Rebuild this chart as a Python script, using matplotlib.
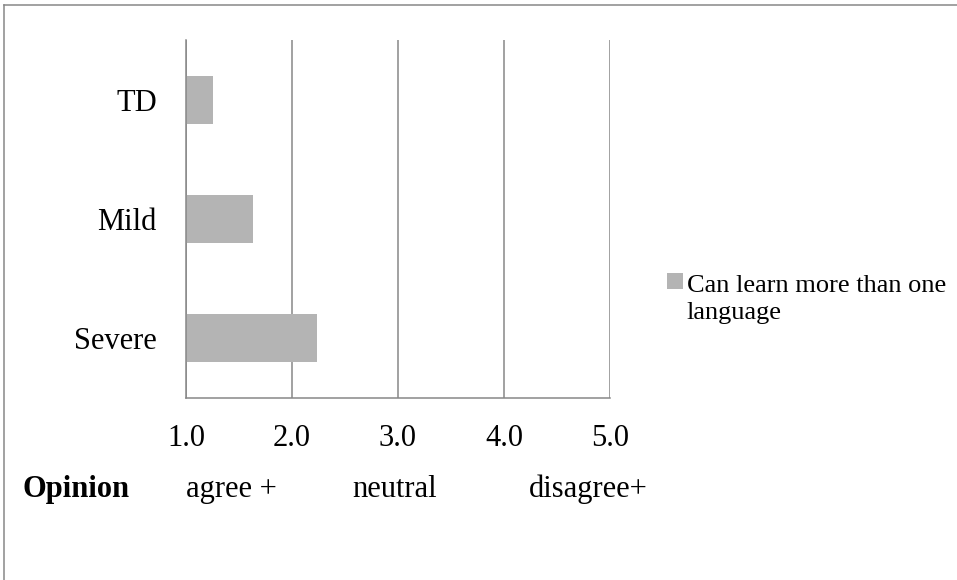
import matplotlib
matplotlib.use('Agg')
import matplotlib.pyplot as plt
from matplotlib.lines import Line2D
from matplotlib.patches import Rectangle
from matplotlib.container import BarContainer
from matplotlib.legend_handler import HandlerPatch

plt.rcParams['font.family'] = ['Liberation Serif', 'DejaVu Serif']

groups = ['Severe', 'Mild', 'TD']
scores = [2.24, 1.63, 1.25]
series_name = 'Can learn more than one\nlanguage'
xticks = [1.0, 2.0, 3.0, 4.0, 5.0]
opinion_words = ['agree +', 'neutral', 'disagree+']

bar_color = '#b4b4b4'
line_color = '#878787'

fig = plt.figure(figsize=(9.57, 5.8), dpi=100)
ax = fig.add_axes([186 / 957, 1 - 398 / 580, 424 / 957, 358 / 580])

# bars start at 1.0 (the axis minimum)
ax.barh(range(len(groups)), [s - 1.0 for s in scores], left=1.0, height=0.4,
        color=bar_color, label=series_name, zorder=3)

ax.set_xlim(1.0, 5.0)
ax.set_ylim(-0.5, len(groups) - 0.5)
ax.set_xticks(xticks)
ax.set_xticklabels(['{:.1f}'.format(t) for t in xticks])
ax.set_yticks(range(len(groups)))
ax.set_yticklabels(groups)
ax.tick_params(axis='x', length=0, pad=18.5, labelsize=22)
ax.tick_params(axis='y', length=0, pad=21, labelsize=22)

ax.grid(axis='x', color=line_color, linewidth=1.1, zorder=0)
for side in ['top', 'right']:
    ax.spines[side].set_visible(False)
for side in ['left', 'bottom']:
    ax.spines[side].set_color(line_color)
    ax.spines[side].set_linewidth(1.1)
    ax.spines[side].set_zorder(4)


# legend square sits next to the first line of the wrapped label
def raised_square(legend, orig_handle, xdescent, ydescent, width, height, fontsize):
    return Rectangle((-xdescent, -ydescent + 12.8), width, height)


square_handler = HandlerPatch(patch_func=raised_square,
                              update_func=lambda h, o: h.update_from(o.patches[0]))

leg = fig.legend(loc='upper left', bbox_to_anchor=(667 / 957, 1 - 275 / 580),
                 frameon=False, fontsize=19, handlelength=0.6, handleheight=0.6,
                 handletextpad=0.15, borderpad=0, borderaxespad=0,
                 handler_map={BarContainer: square_handler})
for t in leg.get_texts():
    t.set_linespacing(1.3)

# labels under the axis
fig.text(22.7 / 957, 1 - 497 / 580, 'Opinion', fontsize=22, fontweight='bold',
         va='baseline', ha='left')
for word, xpx in zip(opinion_words, [186.5, 352, 529]):
    fig.text(xpx / 957, 1 - 497 / 580, word, fontsize=22, va='baseline', ha='left')

# outer frame (only top and left edges visible)
fig.add_artist(Line2D([4 / 957, 1], [1 - 5 / 580, 1 - 5 / 580], color=line_color,
                      linewidth=1.1, transform=fig.transFigure))
fig.add_artist(Line2D([4 / 957, 4 / 957], [0, 1 - 5 / 580], color=line_color,
                      linewidth=1.1, transform=fig.transFigure))

fig.savefig('out.png', dpi=100)
